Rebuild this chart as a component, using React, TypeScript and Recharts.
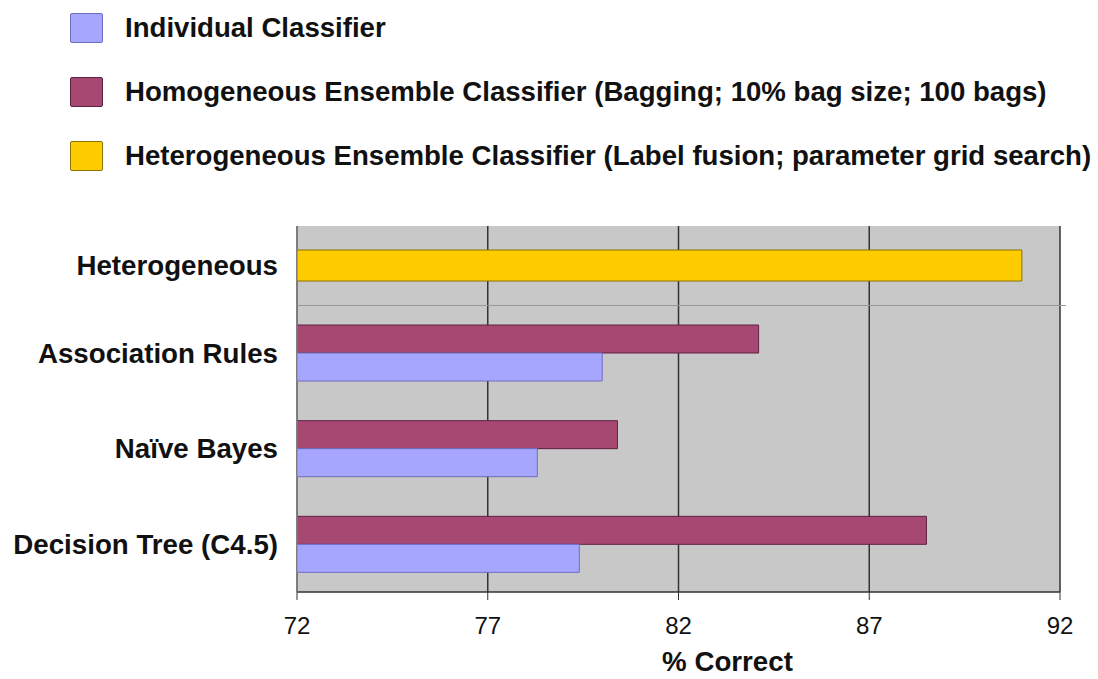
import { BarChart, Bar, XAxis, YAxis, CartesianGrid, Label } from 'recharts';

const FONT = '"Liberation Sans", Arial, Helvetica, sans-serif';

// legend
const seriesNames = [
  'Individual Classifier',
  'Homogeneous Ensemble Classifier (Bagging; 10% bag size; 100 bags)',
  'Heterogeneous Ensemble Classifier (Label fusion; parameter grid search)',
];
const seriesColors = ['#A6A6FF', '#A64872', '#FFCC00'];
const seriesBorders = ['#6E6EC0', '#5E2241', '#8C7300'];

// top panel
const heteroCategories = ['Heterogeneous'];
const heterogeneous = [91.0];

// bottom panel
const categories = ['Association Rules', 'Naïve Bayes', 'Decision Tree (C4.5)'];
const individual = [80.0, 78.3, 79.4];
const homogeneous = [84.1, 80.4, 88.5];

const xTicks = [72, 77, 82, 87, 92];
const xDomain = [72, 92];

const topData = heteroCategories.map((name, i) => ({ name, heterogeneous: heterogeneous[i] }));
const bottomData = categories.map((name, i) => ({
  name,
  individual: individual[i],
  homogeneous: homogeneous[i],
}));

const labelStyle = { fontFamily: FONT, fontSize: 27.7, fontWeight: 700, fill: '#111' };

export default function App() {
  return (
    <div
      style={{
        position: 'absolute',
        left: 0,
        top: 0,
        width: 1098,
        height: 679,
        background: '#fff',
        fontFamily: FONT,
        overflow: 'hidden',
      }}
    >
      {seriesNames.map((s, i) => (
        <div
          key={s}
          style={{
            position: 'absolute',
            left: 70,
            top: 12 + i * 64,
            height: 31,
            display: 'flex',
            alignItems: 'center',
            whiteSpace: 'nowrap',
          }}
        >
          <span
            style={{
              display: 'inline-block',
              width: 31,
              height: 28,
              background: seriesColors[i],
              border: `1.5px solid ${seriesBorders[i]}`,
              borderRadius: 2,
            }}
          />
          <span style={{ marginLeft: 22, fontSize: 27.6, fontWeight: 700, color: '#111' }}>{s}</span>
        </div>
      ))}

      <div style={{ position: 'absolute', left: 0, top: 226 }}>
        <BarChart
          width={1098}
          height={79}
          data={topData}
          layout="vertical"
          margin={{ top: 0, right: 38, bottom: 0, left: 0 }}
          barSize={31}
        >
          <CartesianGrid horizontal={false} fill="#C8C8C8" stroke="#333" strokeWidth={1.5} />
          <XAxis type="number" domain={xDomain} ticks={xTicks} allowDataOverflow hide />
          <YAxis
            type="category"
            dataKey="name"
            width={297}
            axisLine={{ stroke: '#999' }}
            tickLine={false}
            tickSize={0}
            tickMargin={19}
            tick={labelStyle}
          />
          <Bar
            dataKey="heterogeneous"
            fill={seriesColors[2]}
            stroke={seriesBorders[2]}
            strokeWidth={1}
            isAnimationActive={false}
          />
        </BarChart>
      </div>

      <div style={{ position: 'absolute', left: 0, top: 305 }}>
        <BarChart
          width={1098}
          height={372}
          data={bottomData}
          layout="vertical"
          margin={{ top: 0, right: 38, bottom: 0, left: 0 }}
          barSize={28}
          barGap={0}
        >
          <CartesianGrid horizontal={false} fill="#C8C8C8" stroke="#333" strokeWidth={1.5} />
          <XAxis
            type="number"
            domain={xDomain}
            ticks={xTicks}
            allowDataOverflow
            height={85}
            axisLine={{ stroke: '#333', strokeWidth: 1.5 }}
            tickLine={{ stroke: '#333' }}
            tickSize={8}
            tickMargin={17}
            tick={{ fontFamily: FONT, fontSize: 24, fill: '#111' }}
          >
            <Label value="% Correct" position="insideBottom" offset={6} dx={49} style={labelStyle} />
          </XAxis>
          <YAxis
            type="category"
            dataKey="name"
            width={297}
            axisLine={{ stroke: '#999' }}
            tickLine={false}
            tickSize={0}
            tickMargin={19}
            tick={labelStyle}
          />
          <Bar
            dataKey="homogeneous"
            fill={seriesColors[1]}
            stroke={seriesBorders[1]}
            strokeWidth={1}
            isAnimationActive={false}
          />
          <Bar
            dataKey="individual"
            fill={seriesColors[0]}
            stroke={seriesBorders[0]}
            strokeWidth={1}
            isAnimationActive={false}
          />
        </BarChart>
        <div
          style={{
            position: 'absolute',
            left: 297,
            top: 0,
            width: 769,
            height: 1,
            background: '#999',
          }}
        />
      </div>
    </div>
  );
}
